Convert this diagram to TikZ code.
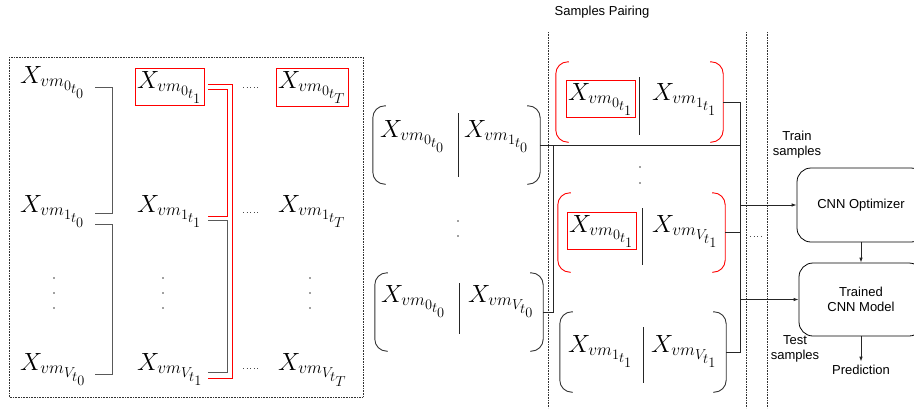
\documentclass[tikz,border=0pt]{standalone}
\usepackage{fontspec}
\setsansfont{Liberation Sans}
\usetikzlibrary{arrows.meta}
\DeclareMathSizes{26}{26}{18.5}{14.5}
\newcommand\xv[2]{$X_{vm_{#1_{t_{#2}}}}$}
\newcommand\parpair[2]{%
  \draw[#2, line width=0.9pt, rounded corners=12pt] ([xshift=13pt]#1.north west) -- (#1.north west) -- (#1.south west) -- ([xshift=13pt]#1.south west);
  \draw[#2, line width=0.9pt, rounded corners=12pt] ([xshift=-13pt]#1.north east) -- (#1.north east) -- (#1.south east) -- ([xshift=-13pt]#1.south east);}
\newcommand\redframe[1]{\draw[red, line width=0.9pt] (#1.south west) rectangle (#1.north east);}
\begin{document}
\begin{tikzpicture}[x=1pt,y=-1pt,
  mx/.style={inner sep=2pt, anchor=base west, font=\fontsize{26}{30}\selectfont},
  brk/.style={draw=black!65, line width=1pt},
  redbrk/.style={draw=red, line width=1pt},
  conn/.style={draw=black!85, line width=0.8pt},
  arr/.style={conn, -{Latex[length=5pt,width=3.5pt]}},
  pairbox/.style={draw=none, inner sep=0pt},
  sans/.style={font=\sffamily\fontsize{13}{15}\selectfont, align=center},
  cnn/.style={draw, rounded corners=14pt, sans, line width=0.8pt},
  vdot/.style={fill=black!75, draw=none},
  hdots/.style={draw=black!70, line width=0.8pt, dash pattern=on 0.8pt off 2.8pt},
  sep/.style={draw=black!80, line width=0.6pt, densely dotted}]
\clip (0,0) rectangle (914,408);
\useasboundingbox (0,0) rectangle (914,408);
% left matrix
\draw[sep] (9,57) rectangle (363,397);
\node[mx] (a00) at (18,83) {\xv{0}{0}};
\node[mx] (a10) at (18,212) {\xv{1}{0}};
\node[mx] (aV0) at (18,370) {\xv{V}{0}};
\node[mx] (a01) at (135,88) {\xv{0}{1}};
\node[mx] (a11) at (135,212) {\xv{1}{1}};
\node[mx] (aV1) at (135,370) {\xv{V}{1}};
\node[mx] (a0T) at (276,88) {\xv{0}{T}};
\node[mx] (a1T) at (276,212) {\xv{1}{T}};
\node[mx] (aVT) at (276,370) {\xv{V}{T}};
\redframe{a01}
\redframe{a0T}
\foreach \x in {54,163,310} \foreach \y in {278,293,308} \fill[vdot] (\x,\y) circle (0.8pt);
\foreach \y in {87,212,368} \draw[hdots] (243,\y) -- (258,\y);
% brackets
\coordinate (c0a) at (95,87); \coordinate (c0b) at (95,213);
\coordinate (c0c) at (95,224); \coordinate (c0d) at (95,374);
\draw[brk] (c0a) -- ++(17,0) |- (c0b);
\draw[brk] (c0c) -- ++(17,0) |- (c0d);
\coordinate (c1a) at (208,84); \coordinate (c1b) at (208,378);
\coordinate (c1c) at (208,89); \coordinate (c1d) at (208,216);
\coordinate (c1e) at (208,220); \coordinate (c1f) at (208,372);
\draw[redbrk] (c1a) -- ++(24,0) |- (c1b);
\draw[redbrk] (c1c) -- ++(19,0) |- (c1d);
\draw[brk] (c1e) -- ++(19,0) |- (c1f);
% middle pairs
\node[pairbox, minimum width=167pt, minimum height=78pt] (p1) at (456.5,145) {};
\node[pairbox, minimum width=168pt, minimum height=78pt] (p2) at (459,312) {};
\parpair{p1}{black!80}
\parpair{p2}{black!80}
\node[mx] (p1l) at (378,137) {\xv{0}{0}};
\node[mx] (p1r) at (462,137) {\xv{1}{0}};
\node[mx] (p2l) at (379,302) {\xv{0}{0}};
\node[mx] (p2r) at (466,302) {\xv{V}{0}};
\draw[black!85, line width=1pt] (458,113) -- (458,177);
\draw[black!85, line width=1pt] (459,283) -- (459,334);
\foreach \y in {221,236} \fill[vdot] (458,\y) circle (0.8pt);
% separators
\draw[sep] (548,32) -- (548,408);
\draw[sep] (746,32) -- (746,408);
\draw[sep] (767,32) -- (767,408);
\node[sans] (title) at (602,12) {Samples Pairing};
% right pairs
\node[pairbox, minimum width=167pt, minimum height=80pt] (pA) at (639.5,102) {};
\node[pairbox, minimum width=167pt, minimum height=79pt] (pB) at (641.5,232.5) {};
\node[pairbox, minimum width=166pt, minimum height=80pt] (pC) at (643,352) {};
\parpair{pA}{red}
\parpair{pB}{red}
\parpair{pC}{black!80}
\node[mx] (pAl) at (566,100) {\xv{0}{1}};
\node[mx] (pAr) at (650,100) {\xv{1}{1}};
\node[mx] (pBl) at (567,232) {\xv{0}{1}};
\node[mx] (pBr) at (650,232) {\xv{V}{1}};
\node[mx] (pCl) at (566,352) {\xv{1}{1}};
\node[mx] (pCr) at (649,352) {\xv{V}{1}};
\redframe{pAl}
\redframe{pBl}
\draw[black!85, line width=1pt] (639,77) -- (639,135);
\draw[black!85, line width=1pt] (642,208) -- (642,265);
\draw[black!85, line width=1pt] (643,327) -- (643,383);
\foreach \y in {167,183} \fill[vdot] (640,\y) circle (0.8pt);
\draw[hdots] (750,236) -- (764,236);
% CNN blocks
\node[cnn, minimum width=128pt, minimum height=74pt] (opt) at (861,205) {CNN Optimizer};
\node[cnn, minimum width=124pt, minimum height=73pt] (trn) at (861,299.5) {Trained\\CNN Model};
\node[sans] (pred) at (861,370) {Prediction};
\node[sans] (trs) at (797,145) {Train\\samples};
\node[sans] (tes) at (795,349) {Test\\samples};
% connectors
\coordinate (jA) at (740,102);
\coordinate (jC) at (740,352);
\coordinate (m) at (553,145);
\draw[conn] (pA.east) -- (jA) -- (jC) -- (pC.east);
\draw[conn] (pB.east) -- (pB.east -| jA);
\draw[conn] (p1.east) -- (p1.east -| jA);
\draw[conn] (p2.east) -| (m);
\draw[arr] (jA |- opt.west) -- (opt.west);
\draw[arr] (jA |- trn.west) -- (trn.west);
\draw[arr] (opt.south) -- (trn.north);
\draw[arr] (trn.south) -- (pred.north);
\end{tikzpicture}
\end{document}
